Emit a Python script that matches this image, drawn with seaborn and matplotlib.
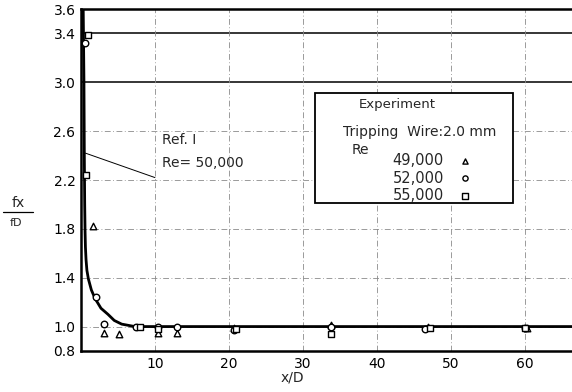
import matplotlib
matplotlib.use("Agg")
import matplotlib.pyplot as plt
import seaborn as sns
import pandas as pd

# Reference curve (Ref. 1, Re = 50,000)
ref_x = [0.3, 0.4, 0.45, 0.5, 0.55, 0.6, 0.68, 0.8, 1.0, 1.4, 1.9, 2.7, 3.65, 4.5, 5.5, 7.3, 10, 66.5]
ref_y = [3.6, 3.0, 2.4, 2.0, 1.78, 1.65, 1.55, 1.46, 1.39, 1.3, 1.23, 1.15, 1.10, 1.05, 1.02, 1.0, 1.0, 1.0]

# Experiment, tripping wire 2.0 mm
tri_x = [1.6, 3.1, 5.1, 10.4, 13.0, 20.7, 33.8, 46.9, 60.3]
tri_y = [1.82, 0.95, 0.94, 0.95, 0.95, 0.99, 1.01, 0.995, 0.99]
circ_x = [0.55, 2.0, 3.1, 7.4, 10.4, 13.0, 20.7, 33.8, 46.5, 60.1]
circ_y = [3.32, 1.24, 1.02, 1.0, 1.0, 1.0, 0.97, 1.0, 0.98, 0.99]
sq_x = [0.95, 0.7, 8.0, 10.4, 20.9, 33.8, 47.2, 60.0]
sq_y = [3.39, 2.24, 1.0, 0.98, 0.98, 0.94, 0.99, 0.99]

x_ticks = [10, 20, 30, 40, 50, 60]
y_ticks = [0.8, 1.0, 1.4, 1.8, 2.2, 2.6, 3.0, 3.4, 3.6]

sns.set_style("white")
plt.rcParams['font.family'] = ['DejaVu Sans']

fig = plt.figure(figsize=(5.72, 3.92), dpi=100)
ax = fig.add_axes([0.1416, 0.1046, 0.8584, 0.8724])

# grid lines
for yv in [1.0, 1.4, 1.8, 2.2, 2.6]:
    ax.axhline(yv, color="#8a8a8a", lw=0.6, ls=(0, (7, 3, 1, 3)), zorder=1)
for yv in [3.0, 3.4]:
    ax.axhline(yv, color="black", lw=1.1, zorder=1)
for xv in x_ticks:
    ax.axvline(xv, color="#8a8a8a", lw=0.6, ls=(0, (7, 3, 1, 3)), zorder=1)

ref = pd.DataFrame({"x": ref_x, "y": ref_y})
sns.lineplot(data=ref, x="x", y="y", ax=ax, color="black", lw=2.0, sort=False, zorder=3)

for xs, ys, m in [(tri_x, tri_y, "^"), (circ_x, circ_y, "o"), (sq_x, sq_y, "s")]:
    d = pd.DataFrame({"x": xs, "y": ys})
    sns.scatterplot(data=d, x="x", y="y", ax=ax, marker=m, s=22,
                    facecolor="white", edgecolor="black", linewidth=1.0, zorder=4)

ax.set_xlim(0, 66.4)
ax.set_ylim(0.8, 3.6)
ax.set_xticks(x_ticks)
ax.set_yticks(y_ticks)
ax.set_xticklabels([str(v) for v in x_ticks], fontsize=10)
ax.set_yticklabels([f"{v:.1f}" for v in y_ticks], fontsize=10)
ax.tick_params(direction="in", length=4, width=0.8, colors="black", pad=4)
ax.set_xlabel("")
ax.set_ylabel("")
for s in ["left", "bottom", "top"]:
    ax.spines[s].set_color("black")
    ax.spines[s].set_linewidth(1.8)
ax.spines["right"].set_visible(False)

# x label
fig.text(0.5105, 0.018, "x/D", ha="center", va="bottom", fontsize=10)
# y label as fraction
fig.text(0.032, 0.482, "fx", ha="center", va="center", fontsize=10)
fig.text(0.028, 0.430, "fD", ha="center", va="center", fontsize=8)
fig.add_artist(plt.Line2D([0.006, 0.058], [0.459, 0.459], color="black", lw=0.9))

# annotation for reference curve
ax.plot([0.6, 10.0], [2.42, 2.22], color="black", lw=0.7, zorder=2)
ax.text(10.9, 2.53, "Ref. I", fontsize=10, va="center", ha="left")
ax.text(10.9, 2.34, "Re= 50,000", fontsize=10, va="center", ha="left")

# legend box
def py(p):
    return 0.8 + (351 - p) / 122.1
def px(p):
    return (p - 81) / 7.4
bx0, bx1 = px(315), px(513)
by0, by1 = py(203), py(93)
ax.add_patch(plt.Rectangle((bx0, by0), bx1 - bx0, by1 - by0, facecolor="white",
                           edgecolor="black", lw=1.3, zorder=5))
ax.text(px(397), py(105), "Experiment", fontsize=9.5, ha="center", va="center", zorder=6)
ax.text(px(420), py(132), "Tripping  Wire:2.0 mm", fontsize=10, ha="center", va="center", zorder=6)
ax.text(px(361), py(150), "Re", fontsize=10, ha="center", va="center", zorder=6)
labels = ["49,000", "52,000", "55,000"]
for i, (lab, m) in enumerate(zip(labels, ["^", "o", "s"])):
    yy = py(161 + i * 17.5)
    ax.text(px(444), yy, lab, fontsize=10.5, ha="right", va="center", zorder=6)
    ax.scatter([px(465)], [yy], marker=m, s=14, facecolor="white", edgecolor="black",
               linewidth=1.0, zorder=6)

fig.savefig("out.png", dpi=100)
